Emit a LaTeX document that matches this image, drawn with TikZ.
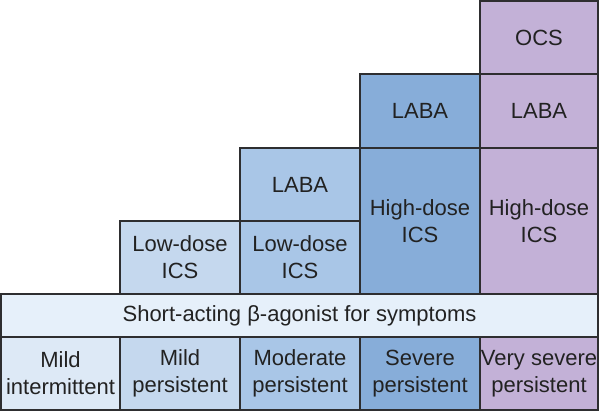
\documentclass[tikz,border=0pt]{standalone}
\usepackage{fontspec}
\setmainfont{Liberation Sans}
\definecolor{cA}{HTML}{DDE9F6}
\definecolor{cBand}{HTML}{E6F0FA}
\definecolor{cB}{HTML}{C5D8EE}
\definecolor{cC}{HTML}{A9C6E7}
\definecolor{cD}{HTML}{87ADD9}
\definecolor{cE}{HTML}{C3B1D7}
\definecolor{edge}{HTML}{2E2E30}
\definecolor{txt}{HTML}{222222}
\begin{document}
\begin{tikzpicture}[x=0.5pt,y=-0.5pt,
  cell/.style={draw=edge,line width=0.6pt,text=txt,align=center,
    font=\fontsize{11}{13.5}\selectfont,inner sep=0pt,minimum width=60pt},
  half/.style={minimum height=36.5pt},
  tall/.style={minimum height=73pt}]
\useasboundingbox (0,0) rectangle (600,412);
% bottom row: severity
\node[cell,half,fill=cA,minimum width=59.5pt] (mi) at (60.5,373.5) {Mild\\intermittent};
\node[cell,half,fill=cB] (mp) at (180,373.5) {Mild\\persistent};
\node[cell,half,fill=cC] (mod) at (300,373.5) {Moderate\\persistent};
\node[cell,half,fill=cD] (sev) at (420,373.5) {Severe\\persistent};
\node[cell,half,fill=cE,minimum width=59pt] (vs) at (539,373.5) {Very severe\\persistent};
% SABA band
\node[cell,fill=cBand,minimum width=298.5pt,minimum height=21.5pt] (saba) at (299.5,315.5)
  {Short-acting β-agonist for symptoms};
% column 2
\node[cell,half,fill=cB] (ics2) at (180,257.5) {Low-dose\\ICS};
% column 3
\node[cell,half,fill=cC] (ics3) at (300,257.5) {Low-dose\\ICS};
\node[cell,half,fill=cC] (laba3) at (300,184.5) {LABA};
% column 4
\node[cell,tall,fill=cD] (ics4) at (420,221) {High-dose\\ICS};
\node[cell,minimum height=37pt,fill=cD] (laba4) at (420,111) {LABA};
% column 5
\node[cell,tall,fill=cE,minimum width=59pt] (ics5) at (539,221) {High-dose\\ICS};
\node[cell,minimum height=37pt,fill=cE,minimum width=59pt] (laba5) at (539,111) {LABA};
\node[cell,half,fill=cE,minimum width=59pt] (ocs) at (539,37.5) {OCS};
\end{tikzpicture}
\end{document}
